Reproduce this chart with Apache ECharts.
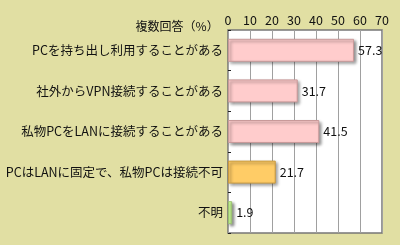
<!DOCTYPE html>
<html><head><meta charset="utf-8">
<script src="https://cdn.jsdelivr.net/npm/echarts@6/dist/echarts.min.js"></script>
<style>html,body{margin:0;padding:0;background:#e1dfa3;}#c{width:400px;height:245px;}</style>
</head><body><div id="c"></div>
<script>
const categories = ['PCを持ち出し利用することがある','社外からVPN接続することがある','私物PCをLANに接続することがある','PCはLANに固定で、私物PCは接続不可','不明'];
const values = [57.3, 31.7, 41.5, 21.7, 1.9];
const colors = ['#ffcccc','#ffcccc','#ffcccc','#ffcc66','#ccff99'];
const borders = ['#c99a9a','#c99a9a','#c99a9a','#c89a40','#99c070'];
const chart = echarts.init(document.getElementById('c'));
chart.setOption({
  backgroundColor: '#e1dfa3',
  animation: false,
  textStyle: {fontFamily: 'Noto Sans CJK JP'},
  grid: {left: 228, right: 18, top: 30, bottom: 12, containLabel: false,
         show: true, backgroundColor: '#ffffff', borderColor: '#777', borderWidth: 1.5},
  xAxis: {type: 'value', position: 'top', min: 0, max: 70, interval: 10,
    name: '複数回答（%）', nameLocation: 'start', nameGap: 6,
    nameTextStyle: {color: '#111', fontSize: 12, fontFamily: 'Noto Sans CJK JP', verticalAlign: 'bottom', padding: [0,0,-2,0]},
    axisLine: {show: false}, axisTick: {show: false},
    axisLabel: {color: '#111', fontSize: 12.5, margin: 3, fontFamily: 'Noto Sans CJK JP'},
    splitLine: {show: true, lineStyle: {color: '#a0a0a0', width: 1}}},
  yAxis: {type: 'category', inverse: true, data: categories,
    axisLine: {show: false},
    axisTick: {show: true, inside: true, length: 3, lineStyle: {color: '#222'}},
    axisLabel: {color: '#111', fontSize: 12.5, margin: 5, fontFamily: 'Noto Sans CJK JP'}},
  series: [{type: 'bar', barWidth: 23,
    data: values.map((v,i)=>({value: v, itemStyle: {color: colors[i], borderColor: borders[i], borderWidth: 1,
      shadowColor: 'rgba(0,0,0,0.45)', shadowBlur: 3, shadowOffsetX: 2, shadowOffsetY: 2}})),
    label: {show: true, position: 'right', distance: 4, color: '#111', fontSize: 12.5, fontFamily: 'Noto Sans CJK JP'}}]
});
</script></body></html>
